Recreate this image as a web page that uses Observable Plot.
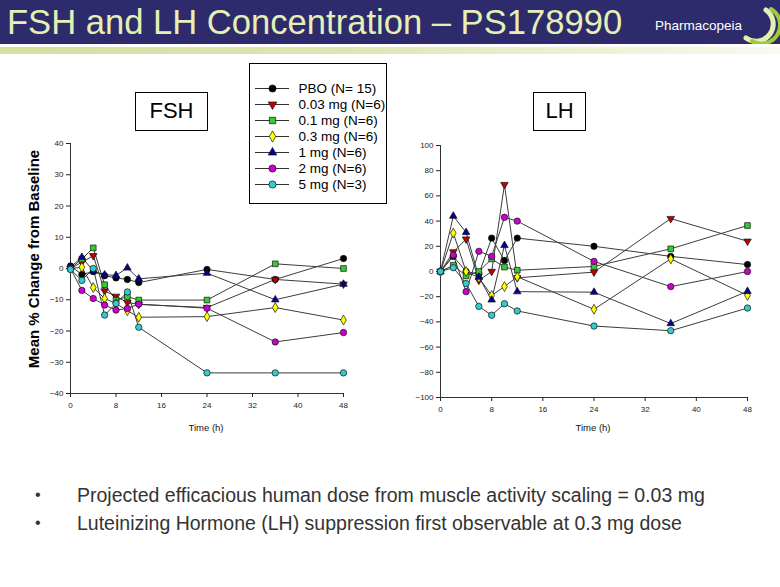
<!DOCTYPE html>
<html>
<head>
<meta charset="utf-8">
<script src="https://cdn.jsdelivr.net/npm/d3@7"></script>
<script src="https://cdn.jsdelivr.net/npm/@observablehq/plot@0.6"></script>
<style>
  html, body { margin: 0; padding: 0; background: #fff; }
  #page { position: relative; width: 780px; height: 587px; overflow: hidden; background: #fff;
          font-family: "Liberation Sans", Arial, sans-serif; }
  .abs { position: absolute; }
  #bar { left: 0; top: 0; width: 780px; height: 44px; background: #2d2b6b; }
  #title { left: 7px; top: 3px; font-size: 34.6px; color: #e6efb6; white-space: nowrap; line-height: 38px; }
  #stripe { left: 0; top: 47px; width: 780px; height: 7px;
            background: linear-gradient(to right, #d3e09f 0%, #dde7b4 45%, #eef3d9 80%, #f8faef 100%); }
  #logoText { left: 655px; top: 18px; font-size: 13.5px; color: #fff; white-space: nowrap; line-height: 16px; }
  .panelTitle { border: 1px solid #000; font-size: 22px; text-align: center; line-height: 36px; color: #000; background: #fff; }
  #ylab { left: 33px; top: 259px; transform: translate(-50%, -50%) rotate(-90deg); font-size: 15px; font-weight: bold;
          white-space: nowrap; color: #000; }
  .xlab { font-size: 9.5px; white-space: nowrap; transform: translate(-50%, -50%); color: #111; }
  #legend { left: 249px; top: 63px; width: 136px; height: 139px; border: 1px solid #000; background: #fff; }
  .bullet { font-size: 19.5px; color: #333; white-space: nowrap; line-height: 22px; }
  .dotb { font-size: 16px; color: #333; line-height: 22px; }
</style>
</head>
<body>
<div id="page">
  <div id="bar" class="abs"></div>
  <div id="title" class="abs">FSH and LH Concentration – PS178990</div>
  <div id="logoText" class="abs">Pharmacopeia</div>
  <svg class="abs" style="left:740px;top:4px" width="40" height="40" viewBox="0 0 40 40">
    <path d="M6 34 A 17 17 0 0 0 26 6" fill="none" stroke="#e4f0b2" stroke-width="5" stroke-linecap="round"/>
    <path d="M12 37 A 17 17 0 0 0 31 5" fill="none" stroke="#9fcb3a" stroke-width="4" stroke-linecap="round"/>
  </svg>
  <div id="stripe" class="abs"></div>

  <div id="fshChart" class="abs" style="left:0px;top:135px"></div>
  <div id="lhChart" class="abs" style="left:380px;top:135px"></div>

  <div class="abs panelTitle" style="left:135px;top:92px;width:71px;height:37px">FSH</div>
  <div class="abs panelTitle" style="left:533px;top:92px;width:51px;height:37px">LH</div>

  <div id="ylab" class="abs">Mean % Change from Baseline</div>
  <div class="abs xlab" style="left:206px;top:427px">Time (h)</div>
  <div class="abs xlab" style="left:593px;top:427px">Time (h)</div>

  <div id="legend" class="abs"></div>

  <div class="abs dotb" style="left:35px;top:484px">•</div>
  <div class="abs bullet" style="left:77px;top:484px">Projected efficacious human dose from muscle activity scaling = 0.03 mg</div>
  <div class="abs dotb" style="left:35px;top:512px">•</div>
  <div class="abs bullet" style="left:77px;top:512px">Luteinizing Hormone (LH) suppression first observable at 0.3 mg dose</div>
</div>

<script>
// ---------- data ----------
const times = [0, 2, 4, 6, 8, 10, 12, 24, 36, 48];
const seriesNames = ["PBO (N= 15)", "0.03 mg (N=6)", "0.1 mg (N=6)", "0.3 mg (N=6)", "1 mg (N=6)", "2 mg (N=6)", "5 mg (N=3)"];
const seriesColors = ["#000000", "#c00000", "#33cc33", "#ffff00", "#000099", "#cc00cc", "#33cccc"];
const seriesSymbols = ["circle", "triangle", "square", "diamond", "triangle", "circle", "circle"];
const seriesRotate = [0, 180, 0, 0, 0, 0, 0];

const xTicks = [0, 8, 16, 24, 32, 40, 48];
const fshTicks = [-40, -30, -20, -10, 0, 10, 20, 30, 40];
const lhTicks = [-100, -80, -60, -40, -20, 0, 20, 40, 60, 80, 100];

// FSH mean % change from baseline
const fshPBO  = [0.8, -1.9, -1.0, -2.3, -3.0, -3.5, -4.5, -0.3, -3.5, 3.2];
const fsh003  = [0.0, 2.0, 4.1, -7.2, -8.9, -10.9, -11.5, -12.5, -3.5, -5.0];
const fsh01   = [0.0, 3.0, 6.6, -5.2, -10.1, -9.0, -10.1, -10.1, 1.5, 0.0];
const fsh03   = [0.0, 0.4, -6.1, -9.6, -11.2, -13.5, -15.6, -15.4, -12.5, -16.5];
const fsh1    = [0.5, 3.6, -0.8, -2.0, -2.2, 0.2, -3.3, -1.5, -10.0, -5.0];
const fsh2    = [0.0, -7.0, -9.6, -11.7, -13.3, -12.8, -11.4, -12.7, -23.5, -20.5];
const fsh5    = [-0.3, -3.8, 0.0, -14.9, -11.2, -7.5, -18.8, -33.4, -33.4, -33.4];

// LH mean % change from baseline
const lhPBO = [0, 12, 0, -2, 26.5, 8.7, 26.5, 20, 12, 5.5];
const lh003 = [0, 15.5, 25.7, -7, 0, 69, -5, -0.5, 42, 24];
const lh01  = [0, 5, -3.5, 0, 10, 3.5, 1, 4, 18, 36.5];
const lh03  = [0, 30.5, 0, -5, -19, -12, -4.2, -30, 10, -19];
const lh1   = [0, 44, 31, -4.5, -22.5, 20.7, -16, -16.4, -41.3, -15.7];
const lh2   = [0, 13, -16, 16, 12, 43, 40, 8, -12, 0];
const lh5   = [0, 3, -9.5, -27.7, -34.7, -25.6, -31.3, -43.3, -47, -29];

const fshSeries = [fshPBO, fsh003, fsh01, fsh03, fsh1, fsh2, fsh5];
const lhSeries = [lhPBO, lh003, lh01, lh03, lh1, lh2, lh5];

function toRows(list) {
  return list.flatMap((vals, i) => vals.map((v, j) => ({series: seriesNames[i], time: times[j], value: v})));
}

const fontStyle = {fontFamily: "'Liberation Sans', Arial, sans-serif", fontSize: "8px", color: "#222", background: "transparent", overflow: "visible"};
const markerR = s => (s === "triangle" ? 2.8 : s === "diamond" ? 3.0 : 3.2);

function chart(rows, opt) {
  return Plot.plot({
    width: opt.width, height: opt.height,
    marginLeft: opt.ml, marginRight: opt.mr, marginTop: opt.mt, marginBottom: opt.mb,
    style: fontStyle,
    x: {domain: [0, 48]},
    y: {domain: opt.yDomain},
    marks: [
      Plot.axisX({ticks: xTicks, tickSize: 4, tickPadding: 5, label: null}),
      Plot.axisY({ticks: opt.yTicks, tickSize: 4, tickPadding: 3, label: null}),
      Plot.ruleX([0], {stroke: "#333"}),
      Plot.ruleY([opt.yDomain[0]], {stroke: "#333"}),
      ...seriesNames.map(s => Plot.line(rows.filter(d => d.series === s), {x: "time", y: "value", stroke: "#3c3c3c", strokeWidth: 1})),
      ...seriesNames.map((s, i) => Plot.dot(rows.filter(d => d.series === s), {
        x: "time", y: "value", symbol: seriesSymbols[i], fill: seriesColors[i], rotate: seriesRotate[i],
        stroke: "#111", strokeWidth: 0.7, r: markerR(seriesSymbols[i])
      }))
    ]
  });
}

document.getElementById("fshChart").append(chart(toRows(fshSeries), {
  width: 370, height: 300, ml: 70, mr: 27, mt: 8, mb: 42, yDomain: [-40, 40], yTicks: fshTicks
}));
document.getElementById("lhChart").append(chart(toRows(lhSeries), {
  width: 390, height: 300, ml: 60, mr: 23, mt: 10, mb: 38, yDomain: [-100, 100], yTicks: lhTicks
}));

// legend
const legend = Plot.plot({
  width: 136, height: 139, margin: 0,
  style: {fontFamily: "'Liberation Sans', Arial, sans-serif", fontSize: "13.5px", background: "transparent", overflow: "visible"},
  x: {domain: [0, 136], range: [0, 136], axis: null},
  y: {type: "point", domain: seriesNames, range: [15, 129], axis: null},
  marks: [
    Plot.ruleY(seriesNames, {y: d => d, x1: 5, x2: 39, stroke: "#333", strokeWidth: 1}),
    ...seriesNames.map((s, i) => Plot.dot([s], {
      x: 22, y: d => d, symbol: seriesSymbols[i], fill: seriesColors[i], rotate: seriesRotate[i],
      stroke: "#111", strokeWidth: 0.7, r: markerR(seriesSymbols[i]) + 0.4
    })),
    Plot.text(seriesNames, {x: 48, y: d => d, text: d => d, textAnchor: "start", fill: "#000"})
  ]
});
document.getElementById("legend").append(legend);
</script>
</body>
</html>
